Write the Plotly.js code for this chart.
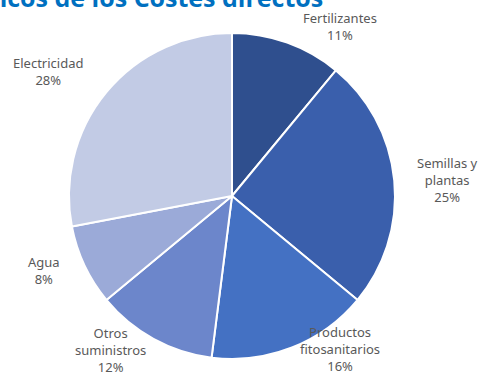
<!DOCTYPE html>
<html>
<head>
<meta charset="utf-8">
<script src="https://cdn.plot.ly/plotly-3.0.1.min.js"></script>
<style>html,body{margin:0;padding:0;background:#fff;}#chart{width:484px;height:376px;}</style>
</head>
<body>
<div id="chart"></div>
<script>
// Data
const categories = ["Fertilizantes", "Semillas y plantas", "Productos fitosanitarios", "Otros suministros", "Agua", "Electricidad"];
const labelLines = ["Fertilizantes", "Semillas y<br>plantas", "Productos<br>fitosanitarios", "Otros<br>suministros", "Agua", "Electricidad"];
const values = [11, 25, 16, 12, 8, 28];
const titleText = "Desglose tipológicos de los Costes directos";

// Styles / layout (not data)
const colors = ["#2F4F8E", "#3A5FAC", "#4471C3", "#6C86CB", "#9BAAD8", "#C2CBE5"];
const W = 484, H = 376;
const cx = 232, cy = 196, r = 163;
const labelPos = [[340, 27], [447, 180], [340, 349], [110, 350], [44, 270], [48, 71]];

const total = values.reduce((a, b) => a + b, 0);
const annotations = categories.map((c, i) => ({
  text: labelLines[i] + "<br>" + Math.round(values[i] / total * 100) + "%",
  x: labelPos[i][0] / W, y: 1 - labelPos[i][1] / H,
  xref: "paper", yref: "paper", xanchor: "center", yanchor: "middle",
  showarrow: false, align: "center",
  font: {family: "Noto Sans, Open Sans, sans-serif", size: 13, color: "#595959"}
}));
// Chart title (partly cropped at the top edge, as in the reference)
annotations.push({
  text: "<b>" + titleText + "</b>",
  x: 325 / W, y: 1 + 3 / H, xref: "paper", yref: "paper",
  xanchor: "right", yanchor: "middle", showarrow: false,
  font: {family: "Open Sans, sans-serif", size: 25, color: "#0070C0"}
});

const trace = {
  type: "pie",
  labels: categories,
  values: values,
  sort: false,
  direction: "clockwise",
  rotation: 0,
  textinfo: "none",
  hoverinfo: "label+percent",
  marker: {colors: colors, line: {color: "#ffffff", width: 2}},
  domain: {x: [(cx - r) / W, (cx + r) / W], y: [1 - (cy + r) / H, 1 - (cy - r) / H]},
  showlegend: false
};

const layout = {
  width: W, height: H,
  margin: {l: 0, r: 0, t: 0, b: 0},
  paper_bgcolor: "#ffffff",
  showlegend: false,
  annotations: annotations
};

Plotly.newPlot("chart", [trace], layout, {staticPlot: true, displayModeBar: false});
</script>
</body>
</html>
